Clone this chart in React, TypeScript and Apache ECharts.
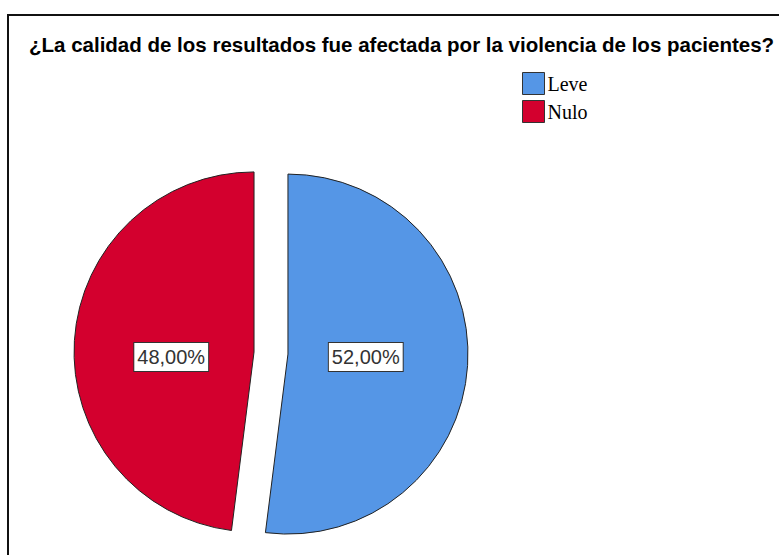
import React, { useEffect, useRef } from "react";
import * as echarts from "echarts";

const titleText = "¿La calidad de los resultados fue afectada por la violencia de los pacientes?";
const categories = ["Leve", "Nulo"];
const values = [52, 48];
const colors = ["#5596e6", "#d3002e"];
const labelShift = [
  { dx: -15, dy: -3 },
  { dx: 10, dy: 11 },
];

export default function App() {
  const ref = useRef<HTMLDivElement>(null);
  useEffect(() => {
    if (!ref.current) return;
    const chart = echarts.init(ref.current, null, { renderer: "svg" });
    chart.setOption({
      animation: false,
      backgroundColor: "#ffffff",
      title: {
        text: titleText,
        left: 29,
        top: 34,
        padding: 0,
        textStyle: { fontFamily: "Liberation Sans", fontWeight: "bold", fontSize: 20.5, color: "#000" },
      },
      legend: {
        orient: "vertical",
        left: 522,
        top: 72,
        padding: 0,
        itemWidth: 22,
        itemHeight: 22,
        itemGap: 5,
        icon: "rect",
        selectedMode: false,
        data: categories,
        textStyle: { fontFamily: "Liberation Serif", fontSize: 20, color: "#000", padding: [0, 0, 0, -2] },
        itemStyle: { borderColor: "#333", borderWidth: 1 },
      },
      graphic: [
        {
          type: "rect",
          shape: { x: 8, y: 15, width: 820, height: 620 },
          style: { fill: "none", stroke: "#111", lineWidth: 2 },
          silent: true,
        },
      ],
      series: [
        {
          type: "pie",
          center: [271, 353],
          radius: 180,
          startAngle: 90,
          clockwise: true,
          selectedMode: "multiple",
          selectedOffset: 17,
          avoidLabelOverlap: false,
          emphasis: { disabled: true },
          itemStyle: { borderColor: "#222", borderWidth: 1 },
          label: {
            show: true,
            position: "inside",
            formatter: (p: any) => p.value.toFixed(2).replace(".", ",") + "%",
            fontFamily: "Liberation Sans",
            fontSize: 20,
            color: "#333",
            backgroundColor: "#fff",
            borderColor: "#333",
            borderWidth: 1,
            padding: [5, 3, 3, 3],
          },
          labelLayout: (p: any) => labelShift[p.dataIndex],
          labelLine: { show: false },
          data: categories.map((c, i) => ({
            name: c,
            value: values[i],
            selected: true,
            itemStyle: { color: colors[i] },
          })),
        },
      ],
    });
    return () => chart.dispose();
  }, []);
  return <div ref={ref} style={{ position: "fixed", left: 0, top: 0, width: 779, height: 555 }} />;
}
